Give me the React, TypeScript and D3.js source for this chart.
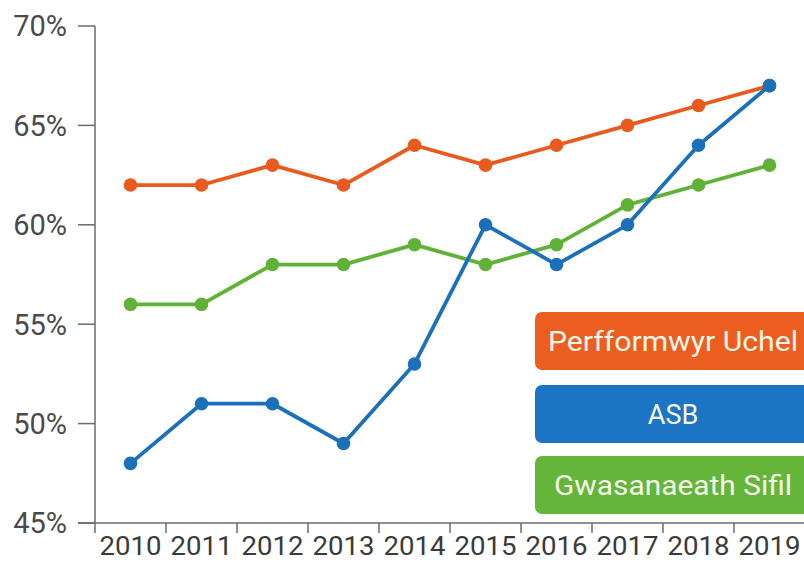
import React from "react";
import * as d3 from "d3";

const years = ["2010", "2011", "2012", "2013", "2014", "2015", "2016", "2017", "2018", "2019"];
const perfformwyr = [62, 62, 63, 62, 64, 63, 64, 65, 66, 67];
const asb = [48, 51, 51, 49, 53, 60, 58, 60, 64, 67];
const gwasanaeth = [56, 56, 58, 58, 59, 58, 59, 61, 62, 63];
const yTicks = [45, 50, 55, 60, 65, 70];

const seriesNames = ["Perfformwyr Uchel", "ASB", "Gwasanaeath Sifil"];
const seriesColors = ["#E95A1E", "#1B70BA", "#5FB235"];
const legendColors = ["#EC5E20", "#1C74C4", "#64B53A"];

export default function App() {
  const W = 804, H = 563;
  const x = d3.scaleBand<string>().domain(years).range([95, 805]).padding(0);
  const y = d3.scaleLinear().domain([45, 70]).range([523, 26]);
  const line = d3.line<number>()
    .x((_, i) => (x(years[i]) as number) + x.bandwidth() / 2)
    .y((d) => y(d));
  const data = [perfformwyr, asb, gwasanaeth];
  const drawOrder = [2, 0, 1];
  const legendY = [312, 385, 456];
  const legendTextLen = [250, 0, 238];

  return (
    <svg width={W} height={H} style={{ position: "absolute", left: 0, top: 0, background: "#fff" }}>
      {/* axes */}
      <line x1={95} x2={95} y1={26} y2={523} stroke="#6b6b6b" strokeWidth={1.5} />
      <line x1={78} x2={804} y1={523} y2={523} stroke="#6b6b6b" strokeWidth={1.5} />
      {yTicks.map((t) => (
        <g key={t}>
          <line x1={78} x2={95} y1={y(t)} y2={y(t)} stroke="#6b6b6b" strokeWidth={1.5} />
          <text x={67} y={y(t)} dy="0.36em" textAnchor="end" fontFamily="Roboto, sans-serif" fontSize={29} fill="#4a4a4a">
            {t}%
          </text>
        </g>
      ))}
      {years.map((yr) => (
        <g key={yr}>
          <line x1={x(yr) as number} x2={x(yr) as number} y1={523} y2={533} stroke="#6b6b6b" strokeWidth={1.5} />
          <text x={(x(yr) as number) + x.bandwidth() / 2} y={555} textAnchor="middle" fontFamily="Roboto, sans-serif" fontSize={26} fill="#3a3a3a"
            textLength={62} lengthAdjust="spacingAndGlyphs">
            {yr}
          </text>
        </g>
      ))}
      {/* lines */}
      {drawOrder.map((s) => (
        <g key={s}>
          <path d={line(data[s]) || ""} fill="none" stroke={seriesColors[s]} strokeWidth={3.8} strokeLinejoin="round" />
          {data[s].map((v, i) => (
            <circle key={i} cx={(x(years[i]) as number) + x.bandwidth() / 2} cy={y(v)} r={6.8} fill={seriesColors[s]} />
          ))}
        </g>
      ))}
      {/* legend */}
      {seriesNames.map((n, i) => (
        <g key={n}>
          <rect x={535} y={legendY[i]} width={280} height={58} rx={7} fill={legendColors[i]} />
          <text x={673} y={legendY[i] + 29} dy="0.36em" textAnchor="middle" fontFamily="Roboto, sans-serif" fontSize={27} fill="#f4f6ea"
            {...(legendTextLen[i] ? { textLength: legendTextLen[i], lengthAdjust: "spacingAndGlyphs" } : {})}>
            {n}
          </text>
        </g>
      ))}
    </svg>
  );
}
